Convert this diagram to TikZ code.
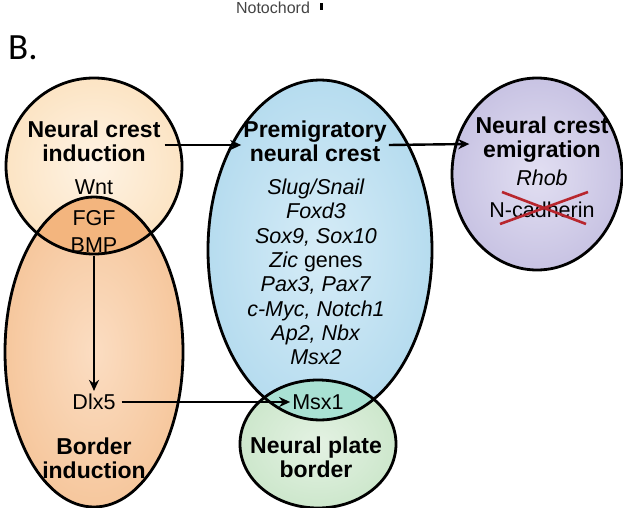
\documentclass[tikz,border=0pt]{standalone}
\usepackage{fontspec}
\setmainfont{Liberation Sans}
\newfontfamily\labfont{Carlito}
\usetikzlibrary{arrows.meta}
\definecolor{peachL}{HTML}{FCE4C4}
\definecolor{peachLc}{HTML}{FEF3E4}
\definecolor{peachD}{HTML}{F6C79D}
\definecolor{peachDc}{HTML}{FBDDC2}
\definecolor{peachX}{HTML}{F3B57E}
\definecolor{blueF}{HTML}{B6DCEF}
\definecolor{blueFc}{HTML}{D6ECF7}
\definecolor{greenF}{HTML}{CDE7CC}
\definecolor{greenFc}{HTML}{E4F2E3}
\definecolor{tealX}{HTML}{A9E1D3}
\definecolor{purpF}{HTML}{C8C3E3}
\definecolor{purpFc}{HTML}{E2DFF2}
\definecolor{xred}{HTML}{B8262E}
\definecolor{notegray}{HTML}{444444}
\begin{document}
\begin{tikzpicture}[x=1pt,y=-1pt,
  outline/.style={line width=2.8pt, draw=black},
  title/.style={font=\fontsize{23}{24}\selectfont\bfseries, align=center, inner sep=0pt},
  gene/.style={font=\fontsize{21.5}{24.3}\selectfont, align=center, inner sep=0pt},
  arr/.style={line width=2.4pt, -{Stealth[length=11pt,width=10pt]}},
]
\useasboundingbox (0,0) rectangle (623,508);
\fill[white] (0,0) rectangle (623,508);

% top stray label and panel letter
\node[font=\fontsize{16}{16}\selectfont, text=notegray, anchor=base, inner sep=0pt] (noto) at (273,14) {Notochord};
\fill[black] (320,3) rectangle (323,10);
\node[font=\labfont\fontsize{37}{37}\selectfont, anchor=base west, inner sep=0pt] (B) at (8,60) {B.};

% left: border induction + neural crest induction
\shade[inner color=peachDc, outer color=peachD] (94,352) ellipse [x radius=89, y radius=155];
\shade[inner color=peachLc, outer color=peachL] (94,166) circle [radius=88];
\begin{scope}
  \clip (94,166) circle [radius=88];
  \fill[peachX] (94,352) ellipse [x radius=89, y radius=155];
\end{scope}
\draw[outline] (94,352) ellipse [x radius=89, y radius=155];
\draw[outline] (94,166) circle [radius=88];

% middle: premigratory + neural plate border
\shade[inner color=blueFc, outer color=blueF] (320,250) ellipse [x radius=112, y radius=170];
\shade[inner color=greenFc, outer color=greenF] (318,444) ellipse [x radius=78, y radius=64];
\begin{scope}
  \clip (320,250) ellipse [x radius=112, y radius=170];
  \fill[tealX] (318,444) ellipse [x radius=78, y radius=64];
\end{scope}
\draw[outline] (320,250) ellipse [x radius=112, y radius=170];
\draw[outline] (318,444) ellipse [x radius=78, y radius=64];

% right: emigration
\shade[inner color=purpFc, outer color=purpF] (537,174) ellipse [x radius=85, y radius=96];
\draw[outline] (537,174) ellipse [x radius=85, y radius=96];

% texts
\node[title] (ind) at (94,141) {Neural crest\\induction};
\node[gene] (wnt) at (94,187) {Wnt};
\node[gene] (fgf) at (94,218) {FGF};
\node[gene] (bmp) at (94,245) {BMP};
\node[gene] (dlx) at (94,402) {Dlx5};
\node[title] (bor) at (94,458) {Border\\induction};

\node[title] (pre) at (315,141) {Premigratory\\neural crest};
\node[gene] (genes) at (316,272) {\textit{Slug/Snail}\\\textit{Foxd3}\\\textit{Sox9, Sox10}\\\textit{Zic} genes\\\textit{Pax3, Pax7}\\\textit{c-Myc, Notch1}\\\textit{Ap2, Nbx}\\\textit{Msx2}};
\node[gene] (msx1) at (318,402) {Msx1};
\node[title] (npb) at (316,457) {Neural plate\\border};

\node[title] (emi) at (542,140) {Neural crest\\emigration};
\node[gene] (rhob) at (542,178) {\textit{Rhob}};
\node[gene] (ncad) at (542,210) {N-cadherin};
\draw[xred, line width=2.6pt] ([xshift=-42pt,yshift=-14pt]ncad.center) -- ([xshift=46pt,yshift=18pt]ncad.center);
\draw[xred, line width=2.6pt] ([xshift=-40pt,yshift=18pt]ncad.center) -- ([xshift=44pt,yshift=-14pt]ncad.center);

% connectors
\draw[arr] ([xshift=4pt,yshift=-4pt]ind.east) -- ([xshift=-2pt,yshift=-4pt]pre.west);
\draw[arr] ([xshift=2pt,yshift=-4pt]pre.east) -- ([xshift=-6pt,yshift=-4pt]emi.west);
\draw[arr] ([yshift=-3pt]bmp.south) -- ([yshift=3pt]dlx.north);
\draw[arr] ([xshift=6pt]dlx.east) -- ([xshift=-2pt]msx1.west);
\end{tikzpicture}
\end{document}
